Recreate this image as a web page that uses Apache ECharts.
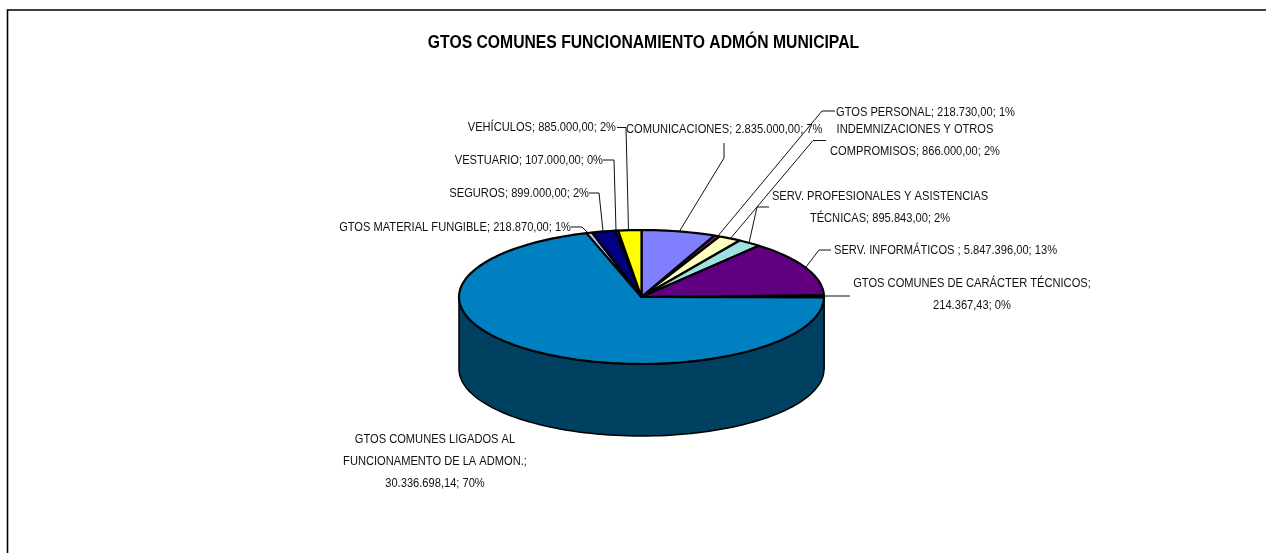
<!DOCTYPE html>
<html>
<head>
<meta charset="utf-8">
<style>
  html, body { margin: 0; padding: 0; background: #fff; }
  #chart { width: 1266px; height: 553px; }
</style>
<script src="https://cdn.jsdelivr.net/npm/echarts@6/dist/echarts.min.js"></script>
</head>
<body>
<div id="chart"></div>
<script>
const chartTitle = 'GTOS COMUNES FUNCIONAMIENTO ADMÓN MUNICIPAL'

// slices, clockwise from 12 o'clock
const categories = [
  'COMUNICACIONES', 'GTOS PERSONAL', 'INDEMNIZACIONES Y OTROS\nCOMPROMISOS', 'SERV. PROFESIONALES Y ASISTENCIAS\nTÉCNICAS',
  'SERV. INFORMÁTICOS ', 'GTOS COMUNES DE CARÁCTER TÉCNICOS', 'GTOS COMUNES LIGADOS AL\nFUNCIONAMENTO DE LA ADMON.',
  'GTOS MATERIAL FUNGIBLE', 'SEGUROS', 'VESTUARIO', 'VEHÍCULOS',
]
const values = [2835000, 218730, 866000, 895843, 5847396, 214367.43, 30336698.14, 218870, 899000, 107000, 885000]
const valueTexts = ['2.835.000,00', '218.730,00', '866.000,00', '895.843,00', '5.847.396,00', '214.367,43', '30.336.698,14', '218.870,00', '899.000,00', '107.000,00', '885.000,00']
const percentTexts = ['7%', '1%', '2%', '2%', '13%', '0%', '70%', '1%', '2%', '0%', '2%']
const labelBreaks = [' ', ' ', ' ', ' ', ' ', '\n', '\n', ' ', ' ', ' ', ' ']

const colors = ['#8080ff', '#802060', '#ffffc0', '#a0e0e0', '#600080', '#ff8080', '#0080c0', '#c0c0ff', '#000080', '#ff00ff', '#ffff00']
const wallColors = ['#404080', '#401030', '#808060', '#507070', '#300040', '#804040', '#004060', '#606080', '#000040', '#800080', '#808000']

// pie geometry in pixels
const cx = 641.5, cy = 297, rx = 182.5, ry = 67, depth = 72
// no narrow font here, so the text is squeezed to look like Arial Narrow
const squeeze = 0.855

// label anchor [x, y, align] and leader line points, same order as categories
const labelAnchors = [
  [626, 129, 'left'], [836, 112, 'left'], [915, 140, 'center'], [880, 207, 'center'],
  [834, 250, 'left'], [972, 294, 'center'], [435, 461, 'center'],
  [571, 227, 'right'], [589, 193, 'right'], [603, 160, 'right'], [616, 127, 'right'],
]
const leaders = [
  [[724, 143], [724, 158], [679, 232]],
  [[835, 111], [822, 111], [717, 237]],
  [[826, 140.5], [813, 140.5], [730, 239]],
  [[769, 207], [757, 207], [749, 243]],
  [[831, 250], [819, 250], [806, 267]],
  [[850, 296], [824, 296]],
  [],
  [[571, 227], [582, 227], [587, 232]],
  [[589, 193], [599, 193], [603, 231]],
  [[603, 160], [614, 160], [616, 230]],
  [[617, 127.5], [626, 127.5], [628.5, 230]],
]

const total = values.reduce((a, b) => a + b, 0)
const startAngles = []
values.reduce((sum, v, i) => {
  startAngles[i] = sum / total * 360
  return sum + v
}, 0)

function rimPoint(deg, dy) {
  const a = deg * Math.PI / 180
  return [cx + rx * Math.sin(a), cy - ry * Math.cos(a) + (dy || 0)]
}

function arcPoints(from, to, dy) {
  const pts = []
  const steps = Math.max(2, Math.ceil((to - from) / 2))
  for (let k = 0; k <= steps; k++) pts.push(rimPoint(from + (to - from) * k / steps, dy))
  return pts
}

function sliceSpan(i, val) {
  return [startAngles[i], startAngles[i] + val / total * 360]
}

// side wall, only the part facing the viewer (90..270 deg)
function renderWall(params, api) {
  const i = params.dataIndex
  const [a0, a1] = sliceSpan(i, api.value(0))
  const from = Math.max(a0, 90), to = Math.min(a1, 270)
  if (to <= from) return { type: 'group', children: [] }
  const pts = arcPoints(from, to, 0).concat(arcPoints(from, to, depth).reverse())
  return {
    type: 'polygon',
    shape: { points: pts },
    style: { fill: wallColors[i], stroke: '#000', lineWidth: 1.5 },
  }
}

function renderTop(params, api) {
  const i = params.dataIndex
  const [a0, a1] = sliceSpan(i, api.value(0))
  return {
    type: 'polygon',
    shape: { points: [[cx, cy]].concat(arcPoints(a0, a1, 0)) },
    style: { fill: colors[i], stroke: '#000', lineWidth: 2.2, lineJoin: 'round' },
  }
}

function renderLabel(params, api) {
  const i = params.dataIndex
  const [x, y, align] = labelAnchors[i]
  const text = categories[i] + ';' + labelBreaks[i] + valueTexts[i] + '; ' + percentTexts[i]
  const children = [{
    type: 'text',
    x, y,
    scaleX: squeeze,
    style: {
      x: 0, y: 0, text,
      align,
      verticalAlign: 'middle',
      fill: '#111',
      font: '13px "Liberation Sans", sans-serif',
      lineHeight: 22,
    },
  }]
  if (leaders[i].length) {
    children.push({
      type: 'polyline',
      shape: { points: leaders[i] },
      style: { fill: null, stroke: '#111', lineWidth: 1 },
    })
  }
  return { type: 'group', children }
}

function customSeries(renderItem, z) {
  return {
    type: 'custom',
    coordinateSystem: 'none',
    renderItem,
    z,
    silent: true,
    animation: false,
    data: values.map(v => [v]),
  }
}

const chart = echarts.init(document.getElementById('chart'))
chart.setOption({
  animation: false,
  backgroundColor: '#fff',
  graphic: [
    {
      type: 'polyline',
      silent: true,
      shape: { points: [[7.5, 553], [7.5, 10], [1266, 10]] },
      style: { fill: null, stroke: '#000', lineWidth: 1.6 },
    },
    {
      type: 'text',
      silent: true,
      x: 643.5,
      y: 43,
      scaleX: 0.873,
      style: {
        x: 0, y: 0,
        text: chartTitle,
        align: 'center',
        verticalAlign: 'middle',
        fill: '#000',
        font: 'bold 18px "Liberation Sans", sans-serif',
      },
    },
  ],
  series: [
    customSeries(renderWall, 1),
    customSeries(renderTop, 2),
    customSeries(renderLabel, 3),
  ],
})
</script>
</body>
</html>
